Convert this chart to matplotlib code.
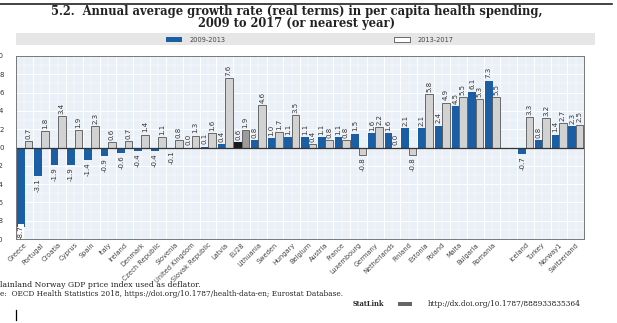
import numpy as np
import matplotlib
matplotlib.use("Agg")
import matplotlib.pyplot as plt
from matplotlib.patches import Rectangle

countries = ["Greece", "Portugal", "Croatia", "Cyprus", "Spain", "Italy", "Ireland",
             "Denmark", "Czech Republic", "Slovenia", "United Kingdom", "Slovak Republic",
             "Latvia", "EU28", "Lithuania", "Sweden", "Hungary", "Belgium", "Austria",
             "France", "Luxembourg", "Germany", "Netherlands", "Finland", "Estonia",
             "Poland", "Malta", "Bulgaria", "Romania", "",
             "Iceland", "Turkey", "Norway1", "Switzerland"]
growth_0913 = [-8.7, -3.1, -1.9, -1.9, -1.4, -0.9, -0.6, -0.4, -0.4, -0.1, 0.0, 0.1,
               0.4, 0.6, 0.8, 1.0, 1.1, 1.1, 1.1, 1.1, 1.5, 1.6, 1.6, 2.1, 2.1,
               2.4, 4.5, 6.1, 7.3, None, -0.7, 0.8, 1.4, 2.3]
growth_1317 = [0.7, 1.8, 3.4, 1.9, 2.3, 0.6, 0.7, 1.4, 1.1, 0.8, 1.3, 1.6,
               7.6, 1.9, 4.6, 1.7, 3.5, 0.4, 0.8, 0.8, -0.8, 2.2, 0.0, -0.8, 5.8,
               4.9, 5.5, 5.3, 5.5, None, 3.3, 3.2, 2.7, 2.5]
series_names = ["2009-2013", "2013-2017"]

BLUE = "#1b5ea3"
GREY = "#d2d2d2"

fig = plt.figure(figsize=(6.17, 3.23), dpi=100)
W, H = 617, 323
ax = fig.add_axes([16 / W, 1 - 239 / H, 568 / W, (239 - 56) / H])

x = np.arange(len(countries))
ax.set_facecolor("#eaf0f7")
ax.set_xlim(-0.5, len(countries) - 0.5)
ax.set_ylim(-10, 10)

# grid
for xv in np.arange(-0.5, len(countries), 1.0):
    ax.axvline(xv, color="white", lw=0.7, zorder=0)
for xv in np.arange(0, len(countries), 1.0):
    ax.axvline(xv, color="white", lw=0.35, zorder=0)
for yv in np.arange(-10, 11, 1):
    ax.axhline(yv, color="white", lw=0.7 if yv % 2 == 0 else 0.35, zorder=0)

bw = 0.46
for i, (a, b) in enumerate(zip(growth_0913, growth_1317)):
    if a is None:
        continue
    eu = countries[i] == "EU28"
    ax.bar(x[i] - 0.2, a, width=bw, color="#1a1a1a" if eu else BLUE,
           edgecolor="none", zorder=2)
    ax.bar(x[i] + 0.24, b, width=bw, color="#9c9c9c" if eu else GREY,
           edgecolor="#555555", linewidth=0.6, zorder=2)
    for xo, v in ((x[i] - 0.2, a), (x[i] + 0.24, b)):
        if v >= 0:
            ax.text(xo, v + 0.25, f"{v:.1f}", rotation=90, ha="center", va="bottom",
                    fontsize=5, color="#333333", zorder=3)
        elif v < -8:
            ax.text(xo, -9.95, f"{v:.1f}", rotation=90, ha="center", va="bottom",
                    fontsize=5, color="#333333", zorder=3,
                    bbox=dict(boxstyle="square,pad=0.05", fc="white", ec="none"))
        else:
            ax.text(xo, v - 0.25, f"{v:.1f}", rotation=90, ha="center", va="top",
                    fontsize=5, color="#333333", zorder=3)

ax.axhline(0, color="#333333", lw=0.9, zorder=2.5)

ax.set_yticks(np.arange(-10, 11, 2))
ax.set_yticklabels([str(v) for v in range(-10, 11, 2)])
ax.tick_params(axis="y", length=0, pad=9, labelsize=5, colors="#333333")
ax.set_xticks(x)
ax.set_xticklabels(countries, rotation=45, ha="right", rotation_mode="anchor")
ax.tick_params(axis="x", length=0, pad=2, labelsize=4.8, colors="#444444")
for s in ax.spines.values():
    s.set_color("#777777")
    s.set_linewidth(0.7)

# header
fig.add_artist(plt.Line2D([0, 612 / W], [1 - 4 / H, 1 - 4 / H], color="#222222", lw=1.2))
fig.text(297 / W, 1 - 11 / H,
         "5.2.  Annual average growth rate (real terms) in per capita health spending,",
         ha="center", va="center", fontsize=8.3, fontweight="bold", family="DejaVu Serif",
         color="#222222")
fig.text(297 / W, 1 - 23 / H, "2009 to 2017 (or nearest year)",
         ha="center", va="center", fontsize=8.3, fontweight="bold", family="DejaVu Serif",
         color="#222222")

# legend band
fig.add_artist(Rectangle((16 / W, 1 - 45 / H), (595 - 16) / W, 12 / H,
                         transform=fig.transFigure, fc="#e6e6e6", ec="none"))
fig.add_artist(Rectangle((166 / W, 1 - 42 / H), 16 / W, 5 / H,
                         transform=fig.transFigure, fc=BLUE, ec="none"))
fig.text(190 / W, 1 - 39.5 / H, series_names[0], fontsize=4.8, va="center", color="#444444")
fig.add_artist(Rectangle((394 / W, 1 - 42 / H), 16 / W, 5 / H,
                         transform=fig.transFigure, fc="white", ec="#555555", lw=0.6))
fig.text(418 / W, 1 - 39.5 / H, series_names[1], fontsize=4.8, va="center", color="#444444")

# footnotes
fig.text(0, 1 - 285 / H, "lainland Norway GDP price index used as deflator.",
         fontsize=5.6, family="DejaVu Serif", va="center", color="#222222")
fig.text(0, 1 - 294.5 / H,
         "e:  OECD Health Statistics 2018, https://doi.org/10.1787/health-data-en; Eurostat Database.",
         fontsize=5.3, family="DejaVu Serif", va="center", color="#222222")
fig.text(353 / W, 1 - 304 / H, "StatLink", fontsize=4.8, family="DejaVu Serif",
         fontweight="bold", va="center", color="#222222")
fig.add_artist(Rectangle((398 / W, 1 - 306 / H), 14 / W, 4 / H,
                         transform=fig.transFigure, fc="#666666", ec="none"))
fig.text(428 / W, 1 - 304 / H, "http://dx.doi.org/10.1787/888933835364",
         fontsize=5.3, family="DejaVu Serif", va="center", color="#222222")
fig.add_artist(plt.Line2D([16 / W, 16 / W], [1 - 320 / H, 1 - 310 / H], color="black", lw=0.9))

fig.savefig("out.png", dpi=100)
